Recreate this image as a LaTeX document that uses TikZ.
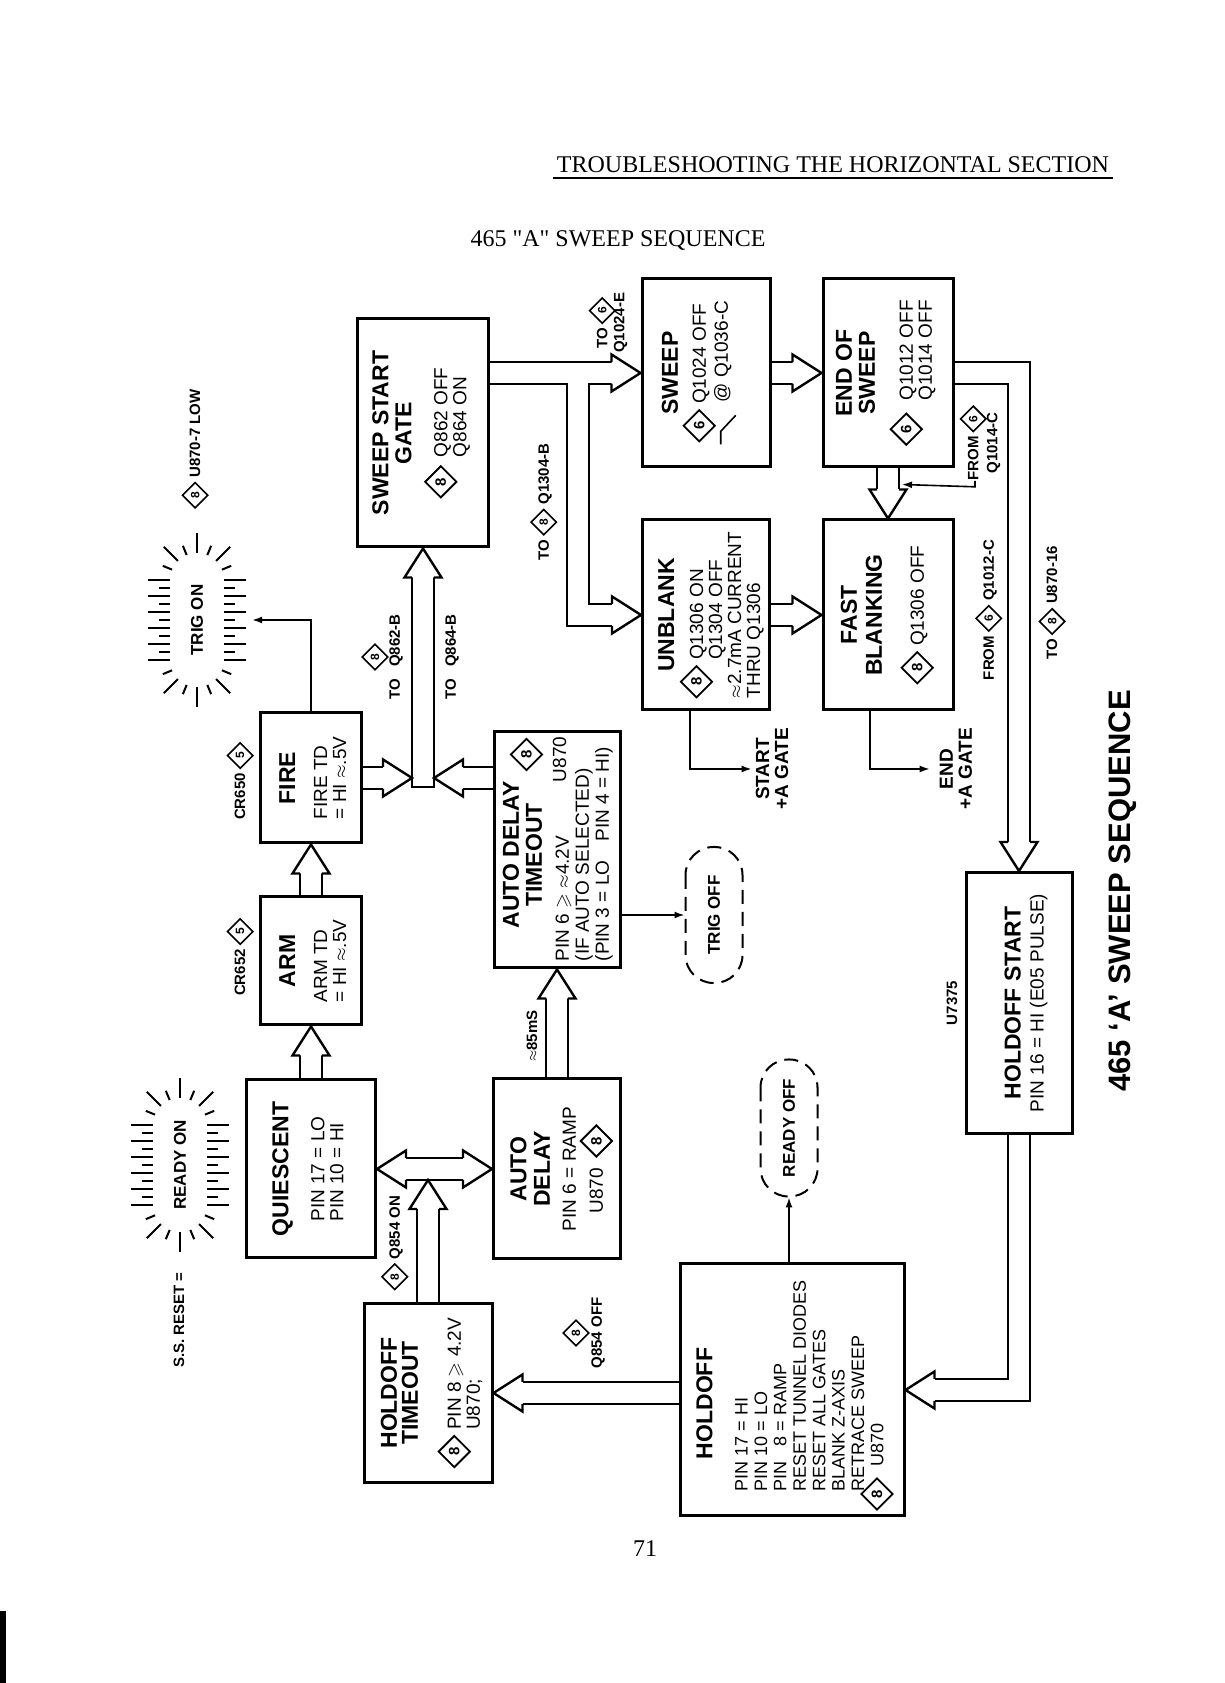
\documentclass[tikz,border=0pt]{standalone}
\usepackage{fontspec}
\setmainfont{Liberation Sans}
\newfontfamily\hdrfont{Liberation Serif}
\usepackage{amssymb}
\usetikzlibrary{calc,arrows.meta,shapes.geometric}

\newcommand{\ttlf}{\fontsize{23}{23}\selectfont\bfseries}
\newcommand{\bdyf}{\fontsize{19}{19}\selectfont}
\newcommand{\lblf}{\fontsize{15}{15}\selectfont\bfseries}
\newcommand{\lft}[1]{\begin{tabular}[t]{@{}l@{}}#1\end{tabular}}
\newcommand{\dmd}[1]{\smash{\tikz[reset cm,baseline=-6.5pt]\node[dmdnode]{#1};}}
\newcommand{\sdmd}[1]{\smash{\tikz[reset cm,baseline=-5pt]\node[sdmdnode]{#1};}}
\newcommand{\rampsym}{\smash{\tikz[reset cm,baseline=0pt]\draw[line width=1.6pt] (0pt,7pt) -- (13pt,7pt) -- (29pt,-8pt);}}

\tikzset{
  box/.style={draw, line width=3pt, fill=white, inner sep=0pt},
  txt/.style={inner sep=0pt, align=center, font=\bdyf},
  lbl/.style={inner sep=0pt, align=center, font=\lblf},
  dmdnode/.style={diamond, draw, line width=1.8pt, minimum size=32pt, inner sep=0pt,
    anchor=center, align=center, font=\fontsize{15}{15}\selectfont\bfseries},
  sdmdnode/.style={dmdnode, line width=1.6pt, minimum size=26pt, font=\fontsize{12}{12}\selectfont\bfseries},
  oval/.style={draw, line width=2pt, dash pattern=on 14pt off 8pt, rounded corners=28pt,
    inner sep=0pt, font=\fontsize{17}{17}\selectfont\bfseries},
  shout/.style={line width=24.4pt, draw=black},
  shin/.style={line width=19.6pt, draw=white},
  bhd/.style={fill=white, draw=black, line width=2.4pt, line join=miter},
  tharr/.style={line width=1.6pt, -{Latex[length=10pt,width=7pt]}},
  tick/.style={line width=2pt},
}

% open head of a block arrow: base centre, tip
\newcommand{\bhead}[2]{%
  \filldraw[bhd] ($#1!11pt!90:#2$) -- ($#1!18.5pt!90:#2$) -- #2
    -- ($#1!18.5pt!-90:#2$) -- ($#1!11pt!-90:#2$);}
% straight block arrow
\newcommand{\barrow}[2]{%
  \coordinate (ba) at ($#2!29pt!#1$);
  \draw[shout] #1 -- (ba);
  \draw[shin] #1 -- (ba);
  \bhead{(ba)}{#2}}
% glow round a lamp label
\newcommand{\burst}[2]{%
  \begin{scope}[shift={(#1,#2)}]
    \foreach \t [count=\i] in {-40,-32,...,40}{
      \pgfmathsetmacro{\ro}{isodd(\i) ? 49 : 38}
      \draw[tick] (\t,27) -- (\t,\ro) (\t,-27) -- (\t,-\ro);}
    \foreach \a [count=\i] in {-67.5,-45,...,67.5}{
      \pgfmathsetmacro{\ro}{isodd(\i) ? 37 : 47}
      \draw[tick] ([shift={(40,0)}]\a:27) -- ([shift={(40,0)}]\a:\ro)
        ([shift={(-40,0)}]180+\a:27) -- ([shift={(-40,0)}]180+\a:\ro);}
  \end{scope}}

\begin{document}
\begin{tikzpicture}[x=1pt,y=1pt]
\useasboundingbox (0,0) rectangle (1224,1683);

% page header and number
\node[font=\hdrfont\fontsize{24}{24}\selectfont, anchor=base] (hdr) at (833,1510) {TROUBLESHOOTING THE HORIZONTAL SECTION};
\draw[line width=2pt] ([yshift=-5pt]hdr.base west) -- ([yshift=-5pt]hdr.base east);
\node[font=\hdrfont\fontsize{24}{24}\selectfont, anchor=base] (sub) at (618,1436) {465 \symbol{34}A\symbol{34} SWEEP SEQUENCE};
\node[font=\hdrfont\fontsize{24}{24}\selectfont, anchor=base] (pgno) at (645,126) {71};
\fill (0,0) rectangle (6,72);

\begin{scope}[transform canvas={shift={(1224,0)},rotate=90}]
  % boxes
  \node[box, minimum width=228pt, minimum height=131pt] (ssg) at (1250,801) {};
  \node[box, minimum width=188pt, minimum height=128pt] (sweep) at (1310,518) {};
  \node[box, minimum width=188pt, minimum height=130pt] (eos) at (1310,336) {};
  \node[box, minimum width=190pt, minimum height=127pt] (unblank) at (1068,518) {};
  \node[box, minimum width=190pt, minimum height=130pt] (fb) at (1068,336) {};
  \node[box, minimum width=130pt, minimum height=101pt] (fire) at (905,913) {};
  \node[box, minimum width=128pt, minimum height=101pt] (arm) at (722,913) {};
  \node[box, minimum width=178pt, minimum height=129pt] (q) at (514,913) {};
  \node[box, minimum width=236pt, minimum height=126pt] (adt) at (833,667) {};
  \node[box, minimum width=180pt, minimum height=127pt] (ad) at (514,667) {};
  \node[box, minimum width=179pt, minimum height=128pt] (ht) at (290,796) {};
  \node[box, minimum width=252pt, minimum height=224pt] (holdoff) at (293,432) {};
  \node[box, minimum width=261pt, minimum height=106pt] (hs) at (680,205) {};

  % box texts
  \node[txt, anchor=north] (ssgT) at ($(ssg.north)+(0,-16)$)
    {\ttlf SWEEP START\\[4pt]\ttlf GATE\\[17pt]\lft{\dmd{8}\hspace{8pt}Q862 OFF\\\hphantom{\dmd{8}\hspace{8pt}}Q864 ON}};
  \node[txt, anchor=north] (sweepT) at ($(sweep.north)+(0,-21)$)
    {\ttlf SWEEP\\[9pt]\dmd{6}\ Q1024 OFF\\[3pt]\rampsym\hspace{12pt}@ Q1036-C};
  \node[txt, anchor=north] (eosT) at ($(eos.north)+(0,-14)$)
    {\ttlf END OF\\[4pt]\ttlf SWEEP\\[19pt]\lft{\dmd{6}\hspace{12pt}Q1012 OFF\\\hphantom{\dmd{6}\hspace{12pt}}Q1014 OFF}};
  \node[txt, anchor=north] (unblankT) at ($(unblank.north)+(0,-17)$)
    {\ttlf UNBLANK\\[10pt]\lft{\dmd{8}\ Q1306 ON\\\hphantom{\dmd{8}\ }Q1304 OFF\\\(\approx\)2.7mA CURRENT\\THRU Q1306}};
  \node[txt, anchor=north] (fbT) at ($(fb.north)+(0,-19)$)
    {\ttlf FAST\\[6pt]\ttlf BLANKING\\[23pt]\dmd{8}\ Q1306 OFF};
  \node[txt, anchor=north] (fireT) at ($(fire.north)+(0,-20)$)
    {\ttlf FIRE\\[13pt]\lft{FIRE TD\\= HI \(\approx\).5V}};
  \node[txt, anchor=north] (armT) at ($(arm.north)+(0,-20)$)
    {\ttlf ARM\\[13pt]\lft{ARM TD\\= HI \(\approx\).5V}};
  \node[txt, anchor=north] (qT) at ($(q.north)+(0,-27)$)
    {\ttlf QUIESCENT\\[17pt]\lft{PIN 17 = LO\\PIN 10 = HI}};
  \node[txt, anchor=north] (adtT) at ($(adt.north)+(-5,-10)$)
    {\ttlf AUTO DELAY\\[4pt]\ttlf TIMEOUT};
  \node[dmdnode] (adtD) at ($(adt.north east)+(-24,-34)$) {8};
  \node[txt, anchor=north west, align=left] (adtB) at ($(adt.north west)+(8,-63)$)
    {PIN 6 \(\geqslant\) \(\approx\)4.2V\\[1pt](IF AUTO SELECTED)\\[1pt](PIN 3 = LO\quad PIN 4 = HI)};
  \node[txt, anchor=base east] (adtU) at ($(adt.east)+(-6,-9)$) {U870};
  \node[txt, anchor=north] (adT) at ($(ad.north)+(0,-18)$)
    {\ttlf AUTO\\[4.6pt]\ttlf DELAY\\[7pt]PIN 6 = RAMP\\[8pt]U870\ \ \dmd{8}};
  \node[txt, anchor=north] (htT) at ($(ht.north)+(0,-18)$)
    {\ttlf HOLDOFF\\[2pt]\ttlf TIMEOUT\\[24pt]\lft{\dmd{8}\ PIN 8 \(\geqslant\) 4.2V\\\hphantom{\dmd{8}\ }U870;}};
  \node[txt, font=\fontsize{18}{19.4}\selectfont, anchor=north] (holdoffT) at ($(holdoff.north)+(4,-17.5)$)
    {\ttlf HOLDOFF\hspace*{35pt}\\[16pt]\lft{PIN 17 = HI\\PIN 10 = LO\\PIN \hphantom{1}8 = RAMP\\RESET TUNNEL DIODES\\RESET ALL GATES\\BLANK Z-AXIS\\RETRACE SWEEP\\\hspace*{14pt}\llap{\dmd{8}}\hspace{11pt}U870}};
  \node[txt] (hsT) at ($(hs.center)+(0,-7)$)
    {\ttlf HOLDOFF START\\[4pt]PIN 16 = HI (E05 PULSE)};

  % lamps and states
  \node[lbl, font=\fontsize{17}{17}\selectfont\bfseries, minimum height=110pt] (trigon) at (1063,1027) {TRIG ON};
  \burst{1063}{1027}
  \node[lbl, font=\fontsize{17}{17}\selectfont\bfseries, minimum height=110pt] (ron) at (518,1044) {READY ON};
  \burst{518}{1044}
  \node[oval, minimum width=136pt, minimum height=57pt] (toff) at (768,510) {TRIG OFF};
  \node[oval, minimum width=137pt, minimum height=57pt] (roff) at (555,435) {READY OFF};

  % labels
  \node[lbl] (l8707) at (1234,1029) {\sdmd{8}\ U870-7 LOW};
  \node[lbl] (l1024) at (1360,612) {TO \sdmd{6}\\[2pt]Q1024-E};
  \node[lbl] (l1304) at (1181,679) {TO \sdmd{8}\ Q1304-B};
  \node[sdmdnode] (l862d) at (1026,849) {8};
  \node[lbl] (l862) at (1026,828) {TO\hspace{12pt}Q862-B};
  \node[lbl] (l864) at (1026,772) {TO\hspace{12pt}Q864-B};
  \node[lbl] (lcr650) at (902,984) {CR650 \sdmd{5}};
  \node[lbl] (lcr652) at (726,984) {CR652 \sdmd{5}};
  \node[lbl] (l85) at (647,692) {\(\approx\)85mS};
  \node[lbl, font=\fontsize{19}{19}\selectfont\bfseries, inner sep=4pt] (startl) at (914,452) {START\\+A GATE};
  \node[lbl, font=\fontsize{19}{19}\selectfont\bfseries, inner sep=10pt] (endl) at (914,268) {END\\+A GATE};
  \node[lbl] (l1012) at (1073,234) {FROM \sdmd{6}\ Q1012-C};
  \node[lbl] (l16) at (1080,172) {TO \sdmd{8}\ U870-16};
  \node[lbl] (l1014) at (1240,240) {FROM \sdmd{6}\\[4pt]Q1014-C};
  \node[lbl] (l7375) at (680,272) {U7375};
  \node[lbl] (l854on) at (440,828) {\sdmd{8}\ Q854 ON};
  \node[sdmdnode] (l854offd) at (350,648) {8};
  \node[lbl] (l854off) at (350,626) {Q854 OFF};
  \node[lbl] (lreset) at (363,1045) {S.S. RESET =};
  \node[font=\fontsize{31}{31}\selectfont\bfseries, anchor=base] (ttl) at (792,94) {465 ‘A’ SWEEP SEQUENCE};

  % block arrows
  \barrow{(q.east)}{(arm.west)}
  \barrow{(arm.east)}{(fire.west)}
  \coordinate (jn) at (896,801);
  \coordinate (jfire) at ($(fire.south |- jn)+(0,11)$);
  \coordinate (jadt) at ($(fire.south |- jn)+(0,-11)$);
  \barrow{(jn)}{(ssg.west)}
  \draw[line width=2.4pt] ($(jn)+(0,-12.2)$) -- ($(jn)+(0,12.2)$);
  \barrow{(fire.south)}{(jfire)}
  \barrow{(jadt |- adt.north)}{(jadt)}
  \coordinate (s0) at (ssg.south -| sweep.north);
  \coordinate (br) at ($(s0)+(0,-88)$);
  \coordinate (bsw) at ($(sweep.north)+(0,29)$);
  \coordinate (bub) at ($(unblank.north)+(0,29)$);
  \draw[shout] (s0) -- (bsw) (br) -| (bub);
  \draw[shin] (s0) -- (bsw) (br) -| (bub);
  \bhead{(bsw)}{(sweep.north)}
  \bhead{(bub)}{(unblank.north)}
  \barrow{(sweep.south)}{(eos.north)}
  \barrow{(unblank.south)}{(fb.north)}
  \barrow{(eos.west)}{(fb.east)}
  \coordinate (bhs) at ($(hs.east)+(29,0)$);
  \draw[shout] (eos.south) |- (bhs);
  \draw[shin] (eos.south) |- (bhs);
  \bhead{(bhs)}{(hs.east)}
  \coordinate (bho) at ($(holdoff.south)+(0,-29)$);
  \draw[shout] (hs.west) -| (bho);
  \draw[shin] (hs.west) -| (bho);
  \bhead{(bho)}{(holdoff.south)}
  \barrow{(ht.south |- holdoff.north)}{(ht.south)}
  \coordinate (bq) at ($(q.south)+(0,-29)$);
  \coordinate (bad) at ($(ad.north)+(0,29)$);
  \draw[shout] (bq) -- (bad);
  \draw[shin] (bq) -- (bad);
  \bhead{(bq)}{(q.south)}
  \bhead{(bad)}{(ad.north)}
  \coordinate (jq) at ($(ht.east -| q.south)+(-11,0)$);
  \barrow{(ht.east)}{(jq)}
  \barrow{(ad.east)}{(adt.west)}

  % signal lines
  \draw[tharr] (fire.east) -| (trigon.south);
  \draw[tharr] (adt.south -| toff.north) -- (toff.north);
  \draw[tharr] ([yshift=16pt]unblank.west) -| (startl.north);
  \draw[tharr] ([yshift=18pt]fb.west) -| (endl.north);
  \draw[tharr] (holdoff.east |- roff.west) -- (roff.west);
  \draw[tharr] ([yshift=9pt]l1014.west) -- ++(-6,0) -- ([shift={(-16,-14)}]eos.west);
\end{scope}
\end{tikzpicture}
\end{document}
